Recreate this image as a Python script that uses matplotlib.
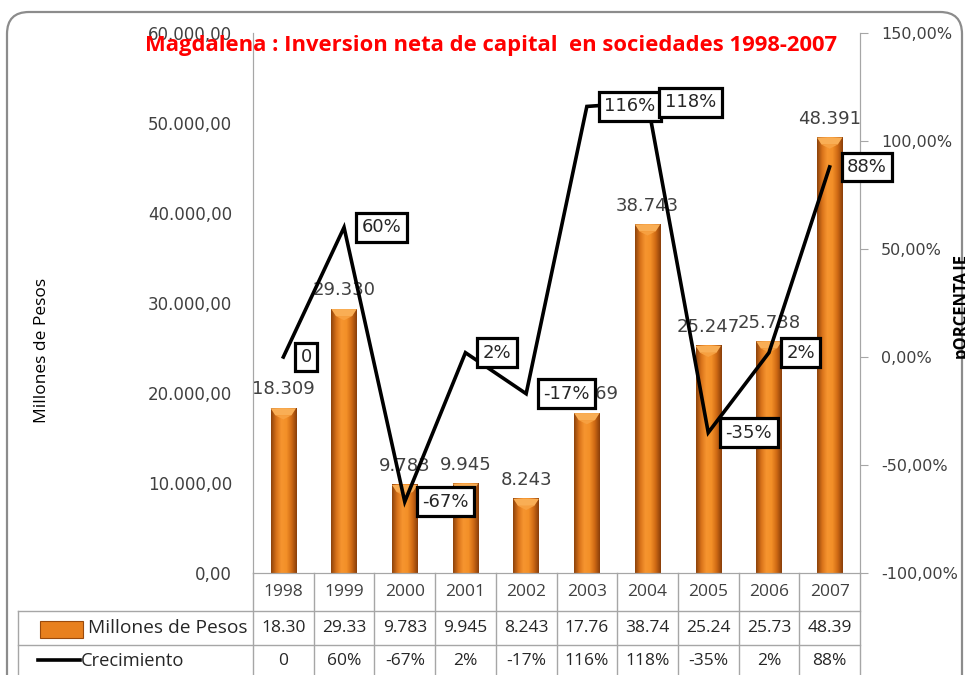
import numpy as np
import matplotlib.pyplot as plt
import matplotlib.transforms as mtransforms
from matplotlib.colors import LinearSegmentedColormap
from matplotlib.patches import FancyBboxPatch, Rectangle, Polygon
from matplotlib.lines import Line2D
from matplotlib.ticker import FuncFormatter

# data
years = ['1998', '1999', '2000', '2001', '2002', '2003', '2004', '2005', '2006', '2007']
millones = [18309, 29330, 9783, 9945, 8243, 17769, 38743, 25247, 25738, 48391]
crecimiento = [0.0, 0.60, -0.67, 0.02, -0.17, 1.16, 1.18, -0.35, 0.02, 0.88]
crec_labels = ['0', '60%', '-67%', '2%', '-17%', '116%', '118%', '-35%', '2%', '88%']

title = 'Magdalena : Inversion neta de capital  en sociedades 1998-2007'
gray_txt = '#404040'
grid_col = '#A6A6A6'

fig = plt.figure(figsize=(9.65, 6.75), dpi=100)
fig.patch.set_facecolor('white')

# rounded frame around the whole chart (pixel coords, origin bottom-left)
frame = FancyBboxPatch((7, -40), 955, 703, boxstyle='round,pad=0,rounding_size=22',
                       transform=mtransforms.IdentityTransform(), fc='none',
                       ec='#8C8C8C', lw=1.6, zorder=0)
fig.patches.append(frame)

ax = fig.add_axes([253 / 965, 102 / 675, 607 / 965, 540 / 675])
x = np.arange(len(years))

# bars with a cylinder-like gradient
bars = ax.bar(x, millones, width=0.42, color='none', zorder=2)
grad = LinearSegmentedColormap.from_list('naranja', ['#8E440C', '#D9731A', '#F6952F', '#F39028',
                                                     '#CF6A14', '#8A3F0A'])
row = np.linspace(0, 1, 64).reshape(1, -1)
cap = 780
for b in bars:
    x0, w, h = b.get_x(), b.get_width(), b.get_height()
    ax.imshow(row, cmap=grad, extent=[x0, x0 + w, 0, h], aspect='auto', zorder=2)
    ax.add_patch(Polygon([[x0, h], [x0 + w, h], [x0 + w * 0.82, h - cap], [x0 + w * 0.18, h - cap]],
                         closed=True, fc='#F9AE55', ec='none', zorder=3))
    ax.add_patch(Polygon([[x0 + w * 0.18, h - cap], [x0 + w * 0.82, h - cap], [x0 + w * 0.5, h - cap * 1.6]],
                         closed=True, fc='#F7A040', ec='none', zorder=3))
    ax.annotate(f'{h:,.0f}'.replace(',', '.'), (x0 + w / 2, h), xytext=(0, 7),
                textcoords='offset points', ha='center', va='bottom',
                fontsize=13, color=gray_txt, zorder=4)

ax.set_xlim(-0.5, len(years) - 0.5)
ax.set_ylim(0, 60000)
ax.set_yticks(np.arange(0, 60001, 10000))
ax.yaxis.set_major_formatter(FuncFormatter(
    lambda v, p: f'{v:,.2f}'.replace(',', 'X').replace('.', ',').replace('X', '.')))
ax.tick_params(axis='y', length=0, pad=15, labelsize=12, labelcolor=gray_txt)
ax.set_xticks([])
ax.spines['top'].set_visible(False)
for s in ['left', 'right', 'bottom']:
    ax.spines[s].set_color(grid_col)

# growth line on secondary axis
ax2 = ax.twinx()
ax2.plot(x, crecimiento, color='black', lw=2.6, zorder=5, solid_joinstyle='miter')
ax2.set_ylim(-1.0, 1.5)
ax2.set_yticks(np.arange(-1.0, 1.51, 0.5))
ax2.yaxis.set_major_formatter(FuncFormatter(lambda v, p: f'{v * 100:.2f}%'.replace('.', ',')))
ax2.tick_params(axis='y', length=6, width=0.8, color=grid_col, pad=9,
                labelsize=11.5, labelcolor=gray_txt)
ax2.spines['top'].set_visible(False)
for s in ['left', 'right', 'bottom']:
    ax2.spines[s].set_color(grid_col)
for xi, yi, lab in zip(x, crecimiento, crec_labels):
    ax2.annotate(lab, (xi, yi), xytext=(12.5, 0), textcoords='offset points',
                 ha='left', va='center', fontsize=13, color='#262626', zorder=6,
                 bbox=dict(boxstyle='square,pad=0.3', fc='white', ec='black', lw=2.3))

# data table below the plot
tr = mtransforms.blended_transform_factory(ax.transData, ax.transAxes)
r1, r2, bot = -0.0704, -0.1333, -0.22
left_col = -0.387
for k in range(len(years) + 1):
    ax.add_line(Line2D([k - 0.5, k - 0.5], [0, bot], transform=tr, color=grid_col,
                       lw=1, clip_on=False))
for yy in [r1, r2]:
    ax.add_line(Line2D([left_col, 1], [yy, yy], transform=ax.transAxes, color=grid_col,
                       lw=1, clip_on=False))
ax.add_line(Line2D([left_col, left_col], [r1, bot], transform=ax.transAxes, color=grid_col,
                   lw=1, clip_on=False))

tfont = 'Open Sans'
for i, yr in enumerate(years):
    ax.text(i, -0.036, yr, transform=tr, ha='center', va='center', fontsize=12.5,
            family=tfont, color=gray_txt)
    ax.text(i, -0.102, f'{millones[i]:,}'.replace(',', '.')[:5], transform=tr, ha='center',
            va='center', fontsize=12.5, family=tfont, color='#262626')
    ax.text(i, -0.163, crec_labels[i], transform=tr, ha='center', va='center', fontsize=12.5,
            family=tfont, color='#262626')

# row headers with legend keys
ax.add_patch(Rectangle((-0.351, -0.121), 0.071, 0.033, transform=ax.transAxes, fc='#E8801E',
                       ec='#9A4A0C', lw=0.8, clip_on=False))
ax.text(-0.272, -0.102, 'Millones de Pesos', transform=ax.transAxes, ha='left', va='center',
        fontsize=13.8, family=tfont, color='#262626')
ax.add_line(Line2D([-0.354, -0.285], [-0.162, -0.162], transform=ax.transAxes, color='black',
                   lw=2.6, clip_on=False))
ax.text(-0.283, -0.163, 'Crecimiento', transform=ax.transAxes, ha='left', va='center',
        fontsize=13.2, family=tfont, color='#262626')

# titles and axis names
fig.text(0.509, 0.933, title, ha='center', va='center', fontsize=15.8, fontweight='bold',
         family=tfont, color='#FF0000')
fig.text(42 / 965, 1 - 350 / 675, 'Millones de Pesos', rotation=90, ha='center', va='center',
         fontsize=12.5, family=tfont, color='black')
fig.text(961 / 965, 1 - 305 / 675, 'pORCENTAJE', rotation=90, ha='center', va='center',
         fontsize=12, fontweight='bold', family=tfont, color='black')

fig.savefig('out.png', dpi=100)
